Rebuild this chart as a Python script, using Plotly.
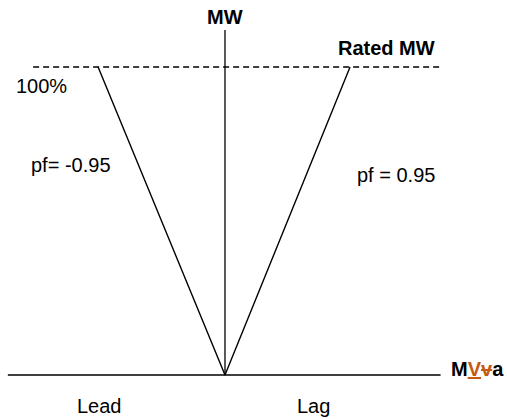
import plotly.graph_objects as go

# P-Q capability sketch: MW up, MVar across (lead left, lag right)
rated_mw = 100          # 100% rated MW
lead_mvar = -41.2       # MVar at rated MW, pf = -0.95 (lead)
lag_mvar = 40.6         # MVar at rated MW, pf = +0.95 (lag)
mvar_axis = [-70.5, 70.0]
mw_axis_top = 112
rated_line = [-62.3, 70.0]

labels = ["MW", "Rated MW", "100%", "pf= -0.95", "pf = 0.95", "Lead", "Lag"]
label_x = [0, 52.3, -59.6, -50.0, 55.5, -40.7, 28.6]
label_y = [116.2, 106.2, 93.8, 68.2, 64.9, -10.1, -10.1]
label_bold = [True, True, False, False, False, False, False]

ORANGE = "#C55A11"

fig = go.Figure()

# MVar axis
fig.add_trace(go.Scatter(x=mvar_axis, y=[0, 0], mode="lines",
                         line=dict(color="black", width=1.5), hoverinfo="skip"))
# MW axis
fig.add_trace(go.Scatter(x=[0, 0], y=[0, mw_axis_top], mode="lines",
                         line=dict(color="black", width=1.3), hoverinfo="skip"))
# Rated MW dashed line
fig.add_trace(go.Scatter(x=rated_line, y=[rated_mw, rated_mw], mode="lines",
                         line=dict(color="black", width=1.3, dash="6px,4px"), hoverinfo="skip"))
# pf lines
fig.add_trace(go.Scatter(x=[lead_mvar, 0, lag_mvar], y=[rated_mw, 0, rated_mw], mode="lines",
                         line=dict(color="black", width=1.4), hoverinfo="skip"))

for txt, x, y, bold in zip(labels, label_x, label_y, label_bold):
    fig.add_annotation(x=x, y=y, text=f"<b>{txt}</b>" if bold else txt,
                       showarrow=False, xanchor="center", yanchor="middle",
                       font=dict(size=20, color="black"))

fig.add_annotation(x=82.1, y=1.95,
                   text=f"<b>M<span style='color:{ORANGE}'><u>V</u><s>v</s></span>a</b>",
                   showarrow=False, xanchor="center", yanchor="middle",
                   font=dict(size=20, color="black"))

fig.update_layout(
    width=507, height=419,
    margin=dict(l=0, r=0, t=0, b=0),
    paper_bgcolor="white", plot_bgcolor="white",
    showlegend=False,
    font=dict(family="Liberation Sans, Arial, sans-serif"),
    xaxis=dict(range=[-73.05, 91.56], visible=False, fixedrange=True),
    yaxis=dict(range=[-14.29, 121.75], visible=False, fixedrange=True),
)

# page body has a default 8px margin; drop it so the figure sits at the corner
fig.write_html("out.html", config={"displayModeBar": False},
               post_script="document.body.style.margin='0';")
